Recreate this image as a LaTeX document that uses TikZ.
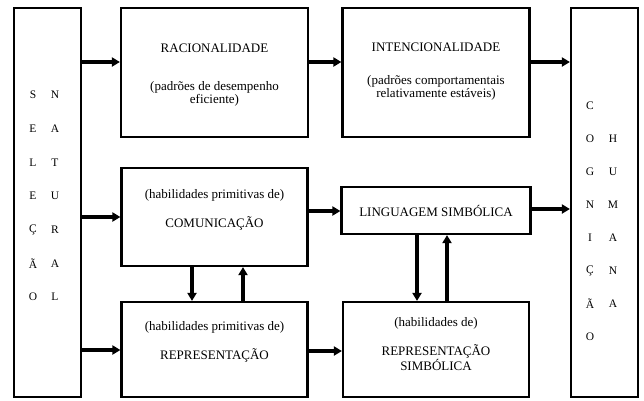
\documentclass[tikz,border=0pt]{standalone}
\usepackage{fontspec}
\setmainfont{Liberation Serif}
\usepackage{tikz}
\usetikzlibrary{arrows.meta}
\tikzstyle{bloco}=[rectangle,draw,line width=2.2pt,inner sep=0pt]
\tikzstyle{seta} = [draw,line width=3.2pt,-{Triangle[length=8pt,width=9pt]}]
\tikzstyle{rotulo} = [font=\fontsize{13}{11.5}\selectfont,inner sep=0pt,align=center]
\tikzstyle{letra} = [font=\fontsize{11.5}{12}\selectfont,inner sep=0pt]

\begin{document}
\begin{tikzpicture}[x=1pt,y=-1pt]
\useasboundingbox (0,0) rectangle (644,400);

%caixas laterais
    \foreach \pos/\name in {{(47.5,202.5)/selecao}, {(604.5,202.5)/cognicao}}
        \node[bloco, minimum width=67pt, minimum height=389pt] (\name) at \pos {};
%linha 1
    \foreach \pos/\name in {{(214.5,72.5)/racional}, {(436,72.5)/intenc}}
        \node[bloco, minimum width=187pt, minimum height=129pt] (\name) at \pos {};
%linha 2
    \node[bloco, minimum width=186pt, minimum height=98pt] (comunic) at (214.5,217) {};
    \node[bloco, rotulo, minimum width=189pt, minimum height=47pt] (ling) at (436,210.5) {LINGUAGEM SIMBÓLICA};
%linha 3
    \foreach \pos/\name in {{(214.5,349.5)/repres}, {(436,349.5)/repsimb}}
        \node[bloco, minimum width=186pt, minimum height=95pt] (\name) at \pos {};

%textos
    \foreach \pos/\name/\label in {{(214.5,48)/tracional/RACIONALIDADE}, {(214.5,94)/tdesemp/(padrões de desempenho\\eficiente)},
        {(436,47)/tintenc/INTENCIONALIDADE}, {(436,87.5)/tcompor/(padrões comportamentais\\relativamente estáveis)},
        {(214.5,195)/thabcom/(habilidades primitivas de)}, {(214.5,223)/tcomunic/COMUNICAÇÃO},
        {(214.5,327)/thabrep/(habilidades primitivas de)}, {(214.5,355)/trepres/REPRESENTAÇÃO},
        {(436,323)/thabsimb/(habilidades de)}, {(436,357.5)/trepsimb/REPRESENTAÇÃO\\SIMBÓLICA}}
        \node[rotulo] (\name) at \pos {\label};

%letras verticais
    \foreach \l [count=\i from 0] in {S,E,L,E,Ç,Ã,O}
        \node[letra] (sel\i) at (33,95+33.7*\i) {\l};
    \foreach \l [count=\i from 0] in {N,A,T,U,R,A,L}
        \node[letra] (nat\i) at (55,95+33.7*\i) {\l};
    \foreach \l [count=\i from 0] in {C,O,G,N,I,Ç,Ã,O}
        \node[letra] (cog\i) at (590,106+33*\i) {\l};
    \foreach \l [count=\i from 0] in {H,U,M,A,N,A}
        \node[letra] (hum\i) at (613,139+33*\i) {\l};

% setas horizontais
    \foreach \source/\dest/\y in {selecao/racional/62, selecao/comunic/217, selecao/repres/350,
        racional/intenc/62, intenc/cognicao/62, comunic/ling/211, ling/cognicao/209, repres/repsimb/351}
        \path[seta] (\source.east |- 0,\y) -- (\dest.west |- 0,\y);
% setas verticais
    \foreach \source/\sa/\dest/\da/\x in {comunic/south/repres/north/192, repres/north/comunic/south/243,
        ling/south/repsimb/north/417, repsimb/north/ling/south/447}
        \path[seta] (\source.\sa -| \x,0) -- (\dest.\da -| \x,0);

\end{tikzpicture}
\end{document}
